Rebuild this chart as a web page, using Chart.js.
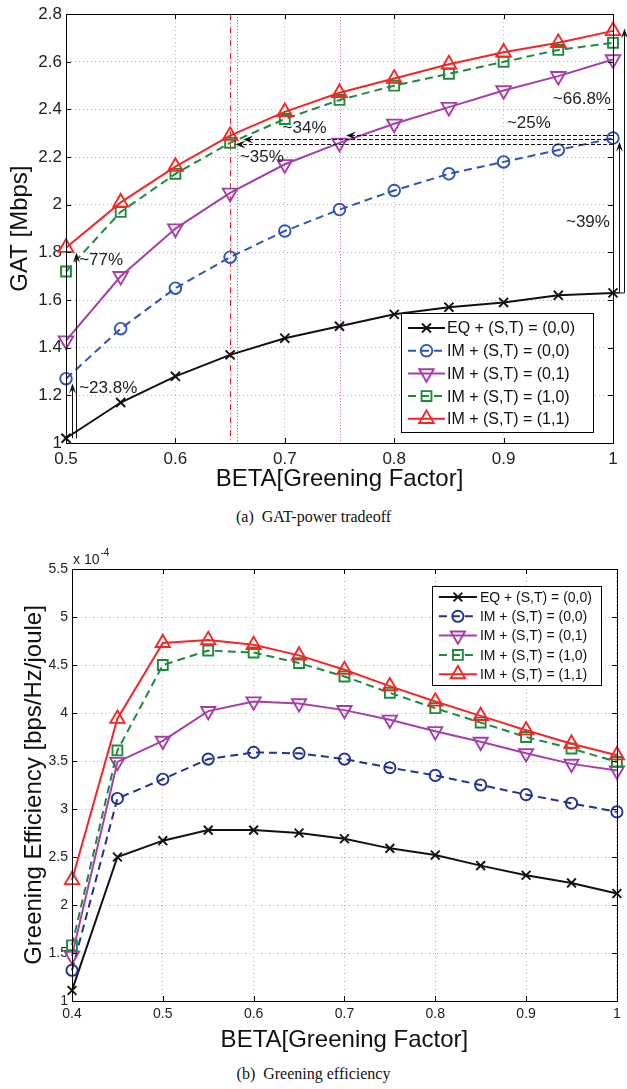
<!DOCTYPE html>
<html>
<head>
<meta charset="utf-8">
<script src="https://cdn.jsdelivr.net/npm/chart.js@4.4.0/dist/chart.umd.min.js"></script>
<style>
    body { margin: 0; background: #fff; }
    #wrap { position: relative; width: 627px; height: 1089px; background: #fff; overflow: hidden; }
    canvas { position: absolute; left: 0; }
    .cap { position: absolute; left: 0; width: 627px; text-align: center; line-height: 20px;
           font-family: "Liberation Serif", "Times New Roman", serif; font-size: 16px; color: #111; }
</style>
</head>
<body>
<div id="wrap">
    <canvas id="gat" width="627" height="500" style="top:0"></canvas>
    <div class="cap" style="top:507px">(a)&nbsp; GAT-power tradeoff</div>
    <canvas id="eff" width="627" height="530" style="top:530px"></canvas>
    <div class="cap" style="top:1064px">(b)&nbsp; Greening efficiency</div>
</div>
<script>
const FONT = '"Liberation Sans", Arial, Helvetica, sans-serif'

// (a) GAT [Mbps] podľa beta
const betaA = [0.5, 0.55, 0.6, 0.65, 0.7, 0.75, 0.8, 0.85, 0.9, 0.95, 1]
const gatEQ00 = [1.02, 1.17, 1.28, 1.37, 1.44, 1.49, 1.54, 1.57, 1.59, 1.62, 1.63]
const gatIM00 = [1.27, 1.48, 1.65, 1.78, 1.89, 1.98, 2.06, 2.13, 2.18, 2.23, 2.28]
const gatIM01 = [1.43, 1.70, 1.90, 2.05, 2.17, 2.26, 2.34, 2.41, 2.48, 2.54, 2.61]
const gatIM10 = [1.72, 1.97, 2.13, 2.26, 2.36, 2.44, 2.50, 2.55, 2.60, 2.65, 2.68]
const gatIM11 = [1.82, 2.01, 2.16, 2.29, 2.39, 2.47, 2.53, 2.59, 2.64, 2.68, 2.73]
const xTicksA = [0.5, 0.6, 0.7, 0.8, 0.9, 1]
const yTicksA = [1, 1.2, 1.4, 1.6, 1.8, 2, 2.2, 2.4, 2.6, 2.8]

// (b) greening efficiency, hodnoty x 1e-4
const betaB = [0.4, 0.45, 0.5, 0.55, 0.6, 0.65, 0.7, 0.75, 0.8, 0.85, 0.9, 0.95, 1]
const geEQ00 = [1.11, 2.50, 2.67, 2.78, 2.78, 2.75, 2.69, 2.59, 2.52, 2.41, 2.31, 2.23, 2.12]
const geIM00 = [1.32, 3.11, 3.31, 3.52, 3.59, 3.58, 3.52, 3.43, 3.35, 3.25, 3.15, 3.06, 2.97]
const geIM01 = [1.47, 3.49, 3.71, 4.02, 4.12, 4.10, 4.03, 3.93, 3.81, 3.70, 3.58, 3.47, 3.40]
const geIM10 = [1.58, 3.61, 4.50, 4.65, 4.63, 4.52, 4.38, 4.21, 4.05, 3.90, 3.75, 3.63, 3.49]
const geIM11 = [2.26, 3.94, 4.73, 4.76, 4.71, 4.60, 4.45, 4.28, 4.12, 3.97, 3.82, 3.68, 3.56]
const xTicksB = [0.4, 0.5, 0.6, 0.7, 0.8, 0.9, 1]
const yTicksB = [1, 1.5, 2, 2.5, 3, 3.5, 4, 4.5, 5, 5.5]

const seriesLabels = ['EQ + (S,T) = (0,0)', 'IM + (S,T) = (0,0)', 'IM + (S,T) = (0,1)', 'IM + (S,T) = (1,0)', 'IM + (S,T) = (1,1)']

// štýly sérií
const colorsA = ['#111111', '#2f55b3', '#a43fa8', '#1e8a3e', '#f42626']
const colorsB = ['#111111', '#23318f', '#a43fa8', '#1e8a3e', '#f42626']
const lineDash = [[], [8, 5], [], [8, 5], []]
const markerShape = ['crossRot', 'circle', 'triangle', 'rect', 'triangle']
const markerRot = [0, 0, 180, 0, 0]
const markerSizeA = [6.4, 5.8, 8.4, 7, 8.4]
const markerSizeB = [6.2, 5.6, 8.2, 7, 8.2]

// anotácie grafu (a), v súradniciach dát
const guideX = [0.65, 0.656, 0.75]
const guideColor = ['#e8202a', '#2a9a4a', '#c858cc']
const guideDash = [[6, 3, 1, 3], [1, 2], [1, 2]]
const hArrowY = [2.295, 2.275, 2.255]
const hArrowFrom = [1.0, 1.0, 1.0]
const hArrowTo = [0.756, 0.662, 0.655]
const vArrowX = [0.5055, 0.5095, 1.0055, 1.0105]
const vArrowFrom = [1.02, 1.02, 1.63, 1.63]
const vArrowTo = [1.25, 1.80, 2.265, 2.74]
const noteText = ['~23.8%', '~77%', '~35%', '~34%', '~25%', '~66.8%', '~39%']
const noteX = [0.512, 0.512, 0.659, 0.698, 0.903, 0.945, 0.957]
const noteY = [1.23, 1.765, 2.2, 2.32, 2.34, 2.444, 1.926]

function marker(ctx, shape, x, y, r, rot) {
    ctx.beginPath()
    if (shape === 'circle') {
        ctx.arc(x, y, r, 0, Math.PI * 2)
    } else if (shape === 'rect') {
        const s = r * Math.SQRT1_2
        ctx.rect(x - s, y - s, 2 * s, 2 * s)
    } else if (shape === 'triangle') {
        const d = rot ? -1 : 1
        ctx.moveTo(x, y - d * r)
        ctx.lineTo(x + r * 0.866, y + d * r * 0.5)
        ctx.lineTo(x - r * 0.866, y + d * r * 0.5)
        ctx.closePath()
    } else {
        const s = r * Math.SQRT1_2
        ctx.moveTo(x - s, y - s); ctx.lineTo(x + s, y + s)
        ctx.moveTo(x - s, y + s); ctx.lineTo(x + s, y - s)
    }
    ctx.stroke()
}

function arrowHead(ctx, x, y, ang, len, half) {
    const c = Math.cos(ang), s = Math.sin(ang)
    ctx.beginPath()
    ctx.moveTo(x, y)
    ctx.lineTo(x - len * c + half * s, y - len * s - half * c)
    ctx.lineTo(x - 0.6 * len * c, y - 0.6 * len * s)
    ctx.lineTo(x - len * c - half * s, y - len * s + half * c)
    ctx.closePath()
    ctx.fill()
}

function makeSets(xs, series, colors, sizes) {
    return series.map((arr, i) => ({
        label: seriesLabels[i],
        data: arr.map((v, k) => ({ x: xs[k], y: v })),
        borderColor: colors[i],
        borderWidth: 2,
        borderDash: lineDash[i],
        pointStyle: markerShape[i],
        pointRotation: markerRot[i],
        pointRadius: sizes[i],
        pointBorderColor: colors[i],
        pointBackgroundColor: 'rgba(0,0,0,0)',
        pointBorderWidth: 1.9,
        tension: 0,
        clip: false,
        order: 4 - i
    }))
}

// rámik a vnútorné značky osí
const frame = {
    id: 'frame',
    afterDraw(chart, args, o) {
        const { ctx, chartArea: a, scales: { x, y } } = chart
        ctx.save()
        ctx.strokeStyle = '#000'
        ctx.lineWidth = 1
        ctx.beginPath()
        x.ticks.forEach(t => {
            const px = Math.round(x.getPixelForValue(t.value)) + 0.5
            ctx.moveTo(px, a.bottom); ctx.lineTo(px, a.bottom - o.tick)
            ctx.moveTo(px, a.top); ctx.lineTo(px, a.top + o.tick)
        })
        y.ticks.forEach(t => {
            const py = Math.round(y.getPixelForValue(t.value)) + 0.5
            ctx.moveTo(a.left, py); ctx.lineTo(a.left + o.tick, py)
            ctx.moveTo(a.right, py); ctx.lineTo(a.right - o.tick, py)
        })
        ctx.stroke()
        ctx.strokeRect(Math.round(a.left) + 0.5, Math.round(a.top) + 0.5, Math.round(a.right - a.left), Math.round(a.bottom - a.top))
        if (o.exponent) {
            ctx.fillStyle = '#222'
            ctx.textBaseline = 'alphabetic'
            ctx.font = `14px ${FONT}`
            ctx.fillText('x 10', a.left + 1, a.top - 5)
            const w = ctx.measureText('x 10').width
            ctx.font = `10px ${FONT}`
            ctx.fillText('-4', a.left + 2 + w, a.top - 13)
        }
        ctx.restore()
    }
}

// vlastná legenda v rámiku
const legendBox = {
    id: 'legendBox',
    afterDraw(chart, args, o) {
        const { ctx, chartArea: a } = chart
        const left = a.right - o.right - o.w
        const top = o.top != null ? a.top + o.top : a.bottom - o.bottom - o.h
        ctx.save()
        ctx.fillStyle = '#fff'
        ctx.fillRect(left, top, o.w, o.h)
        ctx.strokeStyle = '#000'
        ctx.lineWidth = 1
        ctx.strokeRect(Math.round(left) + 0.5, Math.round(top) + 0.5, o.w, o.h)
        ctx.font = `${o.size}px ${FONT}`
        ctx.textBaseline = 'middle'
        chart.data.datasets.forEach((ds, i) => {
            const y = top + o.first + i * o.row
            ctx.strokeStyle = ds.borderColor
            ctx.lineWidth = ds.borderWidth
            ctx.setLineDash(ds.borderDash)
            ctx.beginPath(); ctx.moveTo(left + o.s1, y); ctx.lineTo(left + o.s2, y); ctx.stroke()
            ctx.setLineDash([])
            ctx.lineWidth = ds.pointBorderWidth
            marker(ctx, ds.pointStyle, left + (o.s1 + o.s2) / 2, y, ds.pointRadius, ds.pointRotation)
            ctx.fillStyle = '#111'
            ctx.fillText(ds.label, left + o.tx, y + 1)
        })
        ctx.restore()
    }
}

// vodiace čiary, šípky a percentá v grafe (a)
const notes = {
    id: 'notes',
    beforeDatasetsDraw(chart) {
        const { ctx, chartArea: a, scales: { x } } = chart
        ctx.save()
        guideX.forEach((v, i) => {
            const px = Math.round(x.getPixelForValue(v)) + 0.5
            ctx.strokeStyle = guideColor[i]
            ctx.lineWidth = 1
            ctx.setLineDash(guideDash[i])
            ctx.beginPath(); ctx.moveTo(px, a.top); ctx.lineTo(px, a.bottom); ctx.stroke()
        })
        ctx.restore()
    },
    afterDraw(chart) {
        const { ctx, scales: { x, y } } = chart
        ctx.save()
        ctx.strokeStyle = '#111'
        ctx.fillStyle = '#111'
        ctx.lineWidth = 1
        hArrowY.forEach((v, i) => {
            const py = Math.round(y.getPixelForValue(v)) + 0.5
            const x1 = x.getPixelForValue(hArrowFrom[i])
            const x2 = x.getPixelForValue(hArrowTo[i])
            ctx.setLineDash([4, 2])
            ctx.beginPath(); ctx.moveTo(x1, py); ctx.lineTo(x2 + 6, py); ctx.stroke()
            ctx.setLineDash([])
            arrowHead(ctx, x2, py, Math.PI, 10, 4)
        })
        vArrowX.forEach((v, i) => {
            const px = Math.round(x.getPixelForValue(v)) + 0.5
            const y1 = y.getPixelForValue(vArrowFrom[i])
            const y2 = y.getPixelForValue(vArrowTo[i])
            ctx.beginPath()
            if (v > 1) ctx.moveTo(x.getPixelForValue(1), y1)
            else ctx.moveTo(px, y1)
            ctx.lineTo(px, y1); ctx.lineTo(px, y2 + 6); ctx.stroke()
            arrowHead(ctx, px, y2, -Math.PI / 2, 10, 3.5)
        })
        ctx.font = `17px ${FONT}`
        ctx.fillStyle = '#222'
        ctx.textBaseline = 'middle'
        noteText.forEach((t, i) => {
            ctx.fillText(t, x.getPixelForValue(noteX[i]), y.getPixelForValue(noteY[i]))
        })
        ctx.restore()
    }
}

function axisSet(c) {
    const gridOpts = { color: '#b4b4b4', lineWidth: 1, drawTicks: false }
    return {
        x: {
            type: 'linear', min: c.xt[0], max: c.xt[c.xt.length - 1],
            afterBuildTicks: s => { s.ticks = c.xt.map(v => ({ value: v })) },
            afterFit: s => { s.height = c.xh },
            grid: gridOpts,
            border: { display: true, color: '#000', dash: [1, 3] },
            ticks: { color: '#222', font: { family: FONT, size: c.tick }, padding: c.xpad, maxRotation: 0, autoSkip: false, callback: v => String(v) },
            title: { display: true, text: 'BETA[Greening Factor]', color: '#111', font: { family: FONT, size: 24 }, padding: { top: 0, bottom: c.xtitle } }
        },
        y: {
            type: 'linear', min: c.yt[0], max: c.yt[c.yt.length - 1],
            afterBuildTicks: s => { s.ticks = c.yt.map(v => ({ value: v })) },
            afterFit: s => { s.width = c.yw },
            grid: gridOpts,
            border: { display: true, color: '#000', dash: [1, 3] },
            ticks: { color: '#222', font: { family: FONT, size: c.ytick }, padding: c.ypad, autoSkip: false, callback: v => String(v) },
            title: { display: true, text: c.ytitleText, color: '#111', font: { family: FONT, size: 24 }, padding: { top: c.ytitle, bottom: 0 } }
        }
    }
}

function makeChart(id, c) {
    return new Chart(document.getElementById(id), {
        type: 'line',
        data: { datasets: c.sets },
        options: {
            responsive: false,
            animation: false,
            devicePixelRatio: 1,
            events: [],
            layout: { padding: c.pad },
            plugins: {
                legend: { display: false },
                tooltip: { enabled: false },
                frame: { tick: 5, exponent: c.exponent },
                legendBox: c.legend
            },
            scales: axisSet(c)
        },
        plugins: c.plugins
    })
}

makeChart('gat', {
    sets: makeSets(betaA, [gatEQ00, gatIM00, gatIM01, gatIM10, gatIM11], colorsA, markerSizeA),
    pad: { left: 0, top: 12, right: 14, bottom: 0 },
    xt: xTicksA, yt: yTicksA, xh: 57, yw: 66,
    tick: 17, ytick: 17, xpad: 6, ypad: 4, xtitle: 6, ytitle: 6,
    ytitleText: 'GAT [Mbps]',
    exponent: false,
    legend: { w: 192, h: 119, right: 20, bottom: 11, first: 15, row: 22.7, s1: 7, s2: 44, tx: 46, size: 16 },
    plugins: [notes, frame, legendBox]
})

makeChart('eff', {
    sets: makeSets(betaB, [geEQ00, geIM00, geIM01, geIM10, geIM11], colorsB, markerSizeB),
    pad: { left: 0, top: 39, right: 7, bottom: 0 },
    xt: xTicksB, yt: yTicksB, xh: 59, yw: 72,
    tick: 14, ytick: 14, xpad: 5, ypad: 4, xtitle: 5, ytitle: 20,
    ytitleText: 'Greening Efficiency [bps/Hz/joule]',
    exponent: true,
    legend: { w: 169, h: 99, right: 16, top: 17, first: 11, row: 19.3, s1: 7, s2: 45, tx: 48, size: 14 },
    plugins: [frame, legendBox]
})
</script>
</body>
</html>
